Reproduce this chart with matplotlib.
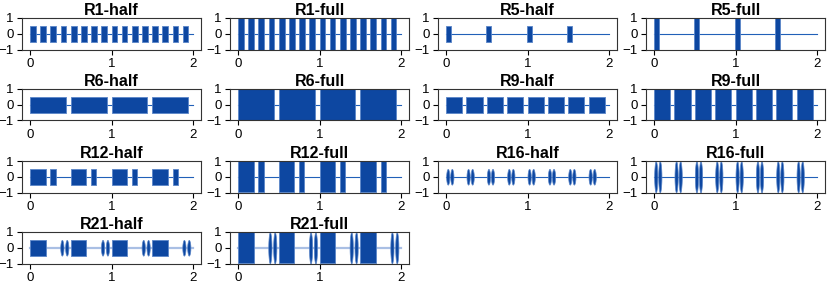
import matplotlib
matplotlib.use('Agg')
import matplotlib.pyplot as plt
import numpy as np

plt.rcParams['font.family'] = ['Liberation Sans', 'DejaVu Sans']

# ---- data: pulse sequences (start, end) for rectangular pulses and lens (shaped) pulses
R1_rect_starts = [0.0, 0.125, 0.25, 0.375, 0.5, 0.625, 0.75, 0.875,
                  1.0, 1.125, 1.25, 1.375, 1.5, 1.625, 1.75, 1.875]
R1_rect_width = 0.07

R5_rect_starts = [0.0, 0.495, 0.99, 1.485]
R5_rect_width = 0.06

R6_rect_starts = [0.0, 0.5, 1.0, 1.5]
R6_rect_width = 0.44

R9_rect_starts = [0.0, 0.25, 0.5, 0.75, 1.0, 1.25, 1.5, 1.75]
R9_rect_width = 0.2

R12_rect_starts = [0.0, 0.25, 0.5, 0.75, 1.0, 1.25, 1.5, 1.75]
R12_rect_widths = [0.19, 0.065, 0.19, 0.065, 0.19, 0.065, 0.19, 0.065]

R16_lens_starts = [0.0, 0.05, 0.25, 0.3, 0.5, 0.55, 0.75, 0.8,
                   1.0, 1.05, 1.25, 1.3, 1.5, 1.55, 1.75, 1.8]
R16_lens_width = 0.04

R21_rect_starts = [0.0, 0.5, 1.0, 1.5]
R21_rect_width = 0.19
R21_lens_starts = [0.37, 0.43, 0.87, 0.93, 1.37, 1.43, 1.87, 1.93]
R21_lens_width = 0.04

titles = ['R1-half', 'R1-full', 'R5-half', 'R5-full',
          'R6-half', 'R6-full', 'R9-half', 'R9-full',
          'R12-half', 'R12-full', 'R16-half', 'R16-full',
          'R21-half', 'R21-full']
amplitudes = [0.5, 1.0] * 7

def seq(name):
    if name == 'R1':
        return [(s, s + R1_rect_width) for s in R1_rect_starts], []
    if name == 'R5':
        return [(s, s + R5_rect_width) for s in R5_rect_starts], []
    if name == 'R6':
        return [(s, s + R6_rect_width) for s in R6_rect_starts], []
    if name == 'R9':
        return [(s, s + R9_rect_width) for s in R9_rect_starts], []
    if name == 'R12':
        return [(s, s + w) for s, w in zip(R12_rect_starts, R12_rect_widths)], []
    if name == 'R16':
        return [], [(s, s + R16_lens_width) for s in R16_lens_starts]
    if name == 'R21':
        return ([(s, s + R21_rect_width) for s in R21_rect_starts],
                [(s, s + R21_lens_width) for s in R21_lens_starts])

FILL = '#0d47a1'
LINE = '#2160b8'

W, H = 830, 283
fig = plt.figure(figsize=(W / 100, H / 100), dpi=100)

col_left = [22, 230, 438, 646]
row_top = [18, 89, 161, 232]
aw, ah = 179, 31.5

for i, (title, amp) in enumerate(zip(titles, amplitudes)):
    r, c = divmod(i, 4)
    ax = fig.add_axes([col_left[c] / W, 1 - (row_top[r] + ah) / H, aw / W, ah / H])
    name = title.split('-')[0]
    rects, lenses = seq(name)
    if name == 'R21':
        ax.plot([0, 2], [0, 0], color='#a9bfe4', lw=1.6, zorder=1)
    else:
        ax.plot([0, 2], [0, 0], color=LINE, lw=0.8, zorder=1)
    for a, b in rects:
        ax.fill_between([a, b], [-amp, -amp], [amp, amp], color=FILL, lw=0.6,
                        edgecolor='#5b86c8', zorder=2)
    for a, b in lenses:
        t = np.linspace(a, b, 60)
        env = amp * np.sin(np.pi * (t - a) / (b - a)) ** 0.5
        ax.fill_between(t, -env, env, color=FILL, lw=0.5, edgecolor='#5b86c8', zorder=2)
    ax.set_xlim(-0.1, 2.1)
    ax.set_ylim(-1, 1)
    ax.set_xticks([0, 1, 2])
    ax.set_yticks([-1, 0, 1])
    ax.set_yticklabels(['\u22121', '0', '1'])
    ax.tick_params(labelsize=9.5, length=3.5, width=0.8, pad=2.5)
    for sp in ax.spines.values():
        sp.set_linewidth(0.8)
        sp.set_color('#333333')
    ax.set_title(title, fontsize=11.5, fontweight='bold', pad=2.5)

fig.savefig('out.png', dpi=100)
